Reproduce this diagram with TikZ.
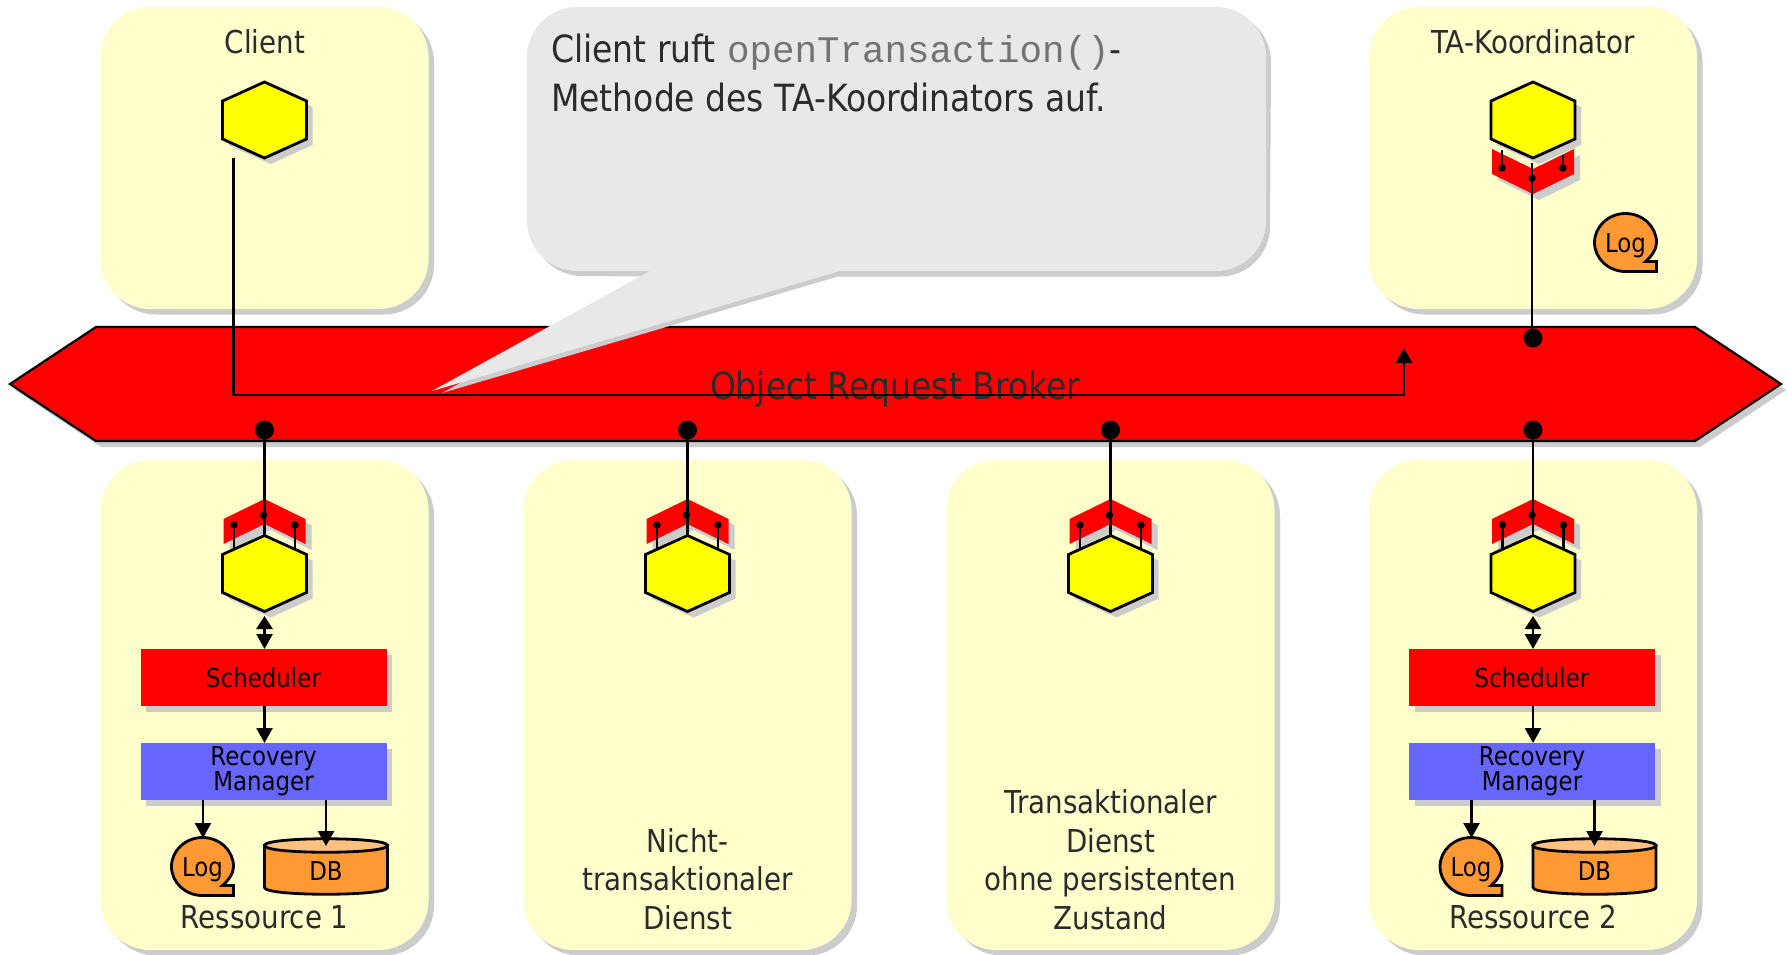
\documentclass[tikz,border=0pt]{standalone}
\usepackage{fontspec}
\setmainfont[FakeStretch=0.88]{DejaVu Sans}
\setmonofont{Liberation Mono}
\usetikzlibrary{arrows.meta,shadows,calc}
\definecolor{boxy}{HTML}{FFFFCC}
\definecolor{shad}{HTML}{CCCCCC}
\definecolor{callg}{HTML}{E8E8E8}
\definecolor{orng}{HTML}{FF9933}
\definecolor{orngl}{HTML}{FFC080}
\definecolor{rmblue}{HTML}{6666FF}
\definecolor{txt}{HTML}{2B2B2B}
\definecolor{hexy}{RGB}{255,255,0}
\definecolor{bandred}{RGB}{255,0,0}
\newcommand{\fs}[2]{\fontsize{#1}{#2}\selectfont}
\tikzset{
  x=1pt,y=-1pt,
  shad5/.style={general shadow={fill=shad,shadow xshift=5.5pt,shadow yshift=-5.5pt}},
  panel/.style={rectangle,rounded corners=50pt,fill=boxy,shad5,inner sep=0pt},
  plain/.style={rectangle,fill=bandred,shad5,inner sep=0pt,minimum width=246pt,minimum height=57pt,text=black,font=\fs{26}{25},align=center},
  lbl/.style={inner sep=0pt,align=center,text=txt,font=\fs{31.5}{38.5}},
  small/.style={inner sep=0pt,align=center,text=black,font=\fs{26}{25}},
  bigdot/.style={circle,fill=black,inner sep=0pt,minimum size=19pt},
  pindot/.style={circle,fill=black,inner sep=0pt,minimum size=7.5pt},
  conn/.style={draw=black,line width=2.6pt},
  arr/.style={conn,-{Triangle[width=16pt,length=15pt]},shorten >=0pt},
  outl/.style={draw=black,line width=2.8pt,line join=miter},
}
% hexagon: a drawn polygon plus an empty named node over it
\newcommand{\hexa}[3]{%
  \begin{scope}[shift={(#2,#3)}]
    \fill[shad] (6,-32) -- (48,-13) -- (48,25) -- (6,44) -- (-36,25) -- (-36,-13) -- cycle;
    \path[fill=hexy,outl] (0,-38) -- (42,-19) -- (42,19) -- (0,38) -- (-42,19) -- (-42,-19) -- cycle;
  \end{scope}
  \node[rectangle,inner sep=0pt,minimum width=84pt,minimum height=76pt] (#1) at (#2,#3) {};}
% red chevron pointing up (above its hexagon); #2 = centre x, y of the apex
\newcommand{\chevup}[2]{%
  \begin{scope}[shift={(#1,#2)}]
    \fill[shad] (6,6) -- (47,26) -- (47,51) -- (6,31) -- (-35,51) -- (-35,26) -- cycle;
    \fill[bandred] (0,0) -- (41,20) -- (41,45) -- (0,25) -- (-41,45) -- (-41,20) -- cycle;
  \end{scope}}
\newcommand{\logshape}[3]{%
  \begin{scope}[shift={(#2,#3)}]
    \path[fill=orng,outl] (0,29) -- (31,29) -- (31,19) -- (20,19) .. controls (27,13) and (31,6) .. (31,0)
      .. controls (31,-16) and (17,-29) .. (0,-29) .. controls (-17,-29) and (-31,-16) .. (-31,0)
      .. controls (-31,16) and (-17,29) .. (0,29) -- cycle;
  \end{scope}
  \node[small] (#1) at ($(#2,#3)+(0,3)$) {Log};}
\newcommand{\dbshape}[3]{%
  \begin{scope}[shift={(#2,#3)}]
    \path[fill=orng,outl] (-61.5,-21) -- (-61.5,21) .. controls (-61.5,30) and (61.5,30) .. (61.5,21) -- (61.5,-21) -- cycle;
    \path[fill=orngl,outl] (-61.5,-21) .. controls (-61.5,-30) and (61.5,-30) .. (61.5,-21)
       .. controls (61.5,-12) and (-61.5,-12) .. (-61.5,-21) -- cycle;
  \end{scope}
  \node[small] (#1) at ($(#2,#3)+(0,5)$) {DB};}
% resource column details: #1 prefix, #2 centre x
\newcommand{\wrapcol}[2]{%
  \node[bigdot] (#1dot) at (#2,430) {};
  \chevup{#2}{499}
  \hexa{#1hex}{#2}{573.5}
  \node[pindot] (#1pc) at (#2-1,515) {};
  \node[pindot] (#1pl) at (#2-30.5,525) {};
  \node[pindot] (#1pr) at (#2+30.5,525) {};
  \coordinate (#1ll) at (#2-30.5,548);
  \coordinate (#1rr) at (#2+30.5,548);
  \draw[conn] (#1dot.center) -- (#1dot.center |- #1hex.north);
  \draw[conn] (#1pl.center) -- (#1ll);
  \draw[conn] (#1pr.center) -- (#1rr);
}
\newcommand{\rescol}[3]{%
  \wrapcol{#1}{#2}
  \node[plain] (#1sch) at (#2-1,677.5) {Scheduler};
  \node[plain,fill=rmblue] (#1rm) at (#2-1,771.5) {Recovery\\Manager};
  \logshape{#1log}{#2-62}{866.5}
  \dbshape{#1db}{#2+61.5}{866.5}
  \coordinate (#1up) at (#2,616);
  \coordinate (#1dn) at (#2,649);
  \draw[conn,{Triangle[width=16pt,length=13pt]}-{Triangle[width=16pt,length=15pt]}] (#1up) -- (#1dn);
  \coordinate (#1m1) at (#2,706);
  \coordinate (#1m2) at (#2,743);
  \draw[arr] (#1m1) -- (#1m2);
  \coordinate (#1a) at (#2-61.5,800);
  \coordinate (#1b) at (#2+61.5,800);
  \coordinate (#1c) at (#2-61.5,838);
  \coordinate (#1d) at (#2+61.5,846);
  \draw[arr] (#1a) -- (#1c);
  \draw[arr] (#1b) -- (#1d);
  \node[lbl] (#1name) at (#2,917.5) {#3};
}
\begin{document}
\begin{tikzpicture}
\useasboundingbox (0,0) rectangle (1787,954);
\fill[white] (0,0) rectangle (1787,954);
% top panels
\node[panel,minimum width=328pt,minimum height=302pt] (pclient) at (264.5,158) {};
\node[panel,minimum width=328pt,minimum height=302pt] (pta) at (1533,158) {};
% bottom panels
\foreach \n/\cx in {pa/264.5,pb/687.5,pc/1110.5,pd/1533}
  \node[panel,minimum width=328pt,minimum height=490pt] (\n) at (\cx,705) {};
% band
\fill[shad] (15,390) -- (101,333) -- (1700,333) -- (1786,390) -- (1700,447) -- (101,447) -- cycle;
\path[fill=bandred,outl,line width=2.2pt] (10,384) -- (96,327) -- (1695,327) -- (1781,384) -- (1695,441) -- (96,441) -- cycle;
\node[inner sep=0pt,text=txt,font=\fs{37.5}{40}] (orb) at (895,389) {Object Request Broker};
% callout
\fill[shad] (442,393) -- (838,276.5) -- (1220,276.5) arc[start angle=90,end angle=0,radius=50] -- (1271,62)
  arc[start angle=0,end angle=-90,radius=50] -- (582,12) arc[start angle=-90,end angle=-180,radius=50] -- (532,226)
  arc[start angle=180,end angle=90,radius=50] -- (650,276.5) -- (460,383) -- cycle;
\fill[callg] (432,391) -- (650,271) -- (577,271) arc[start angle=90,end angle=180,radius=50] -- (527,57)
  arc[start angle=180,end angle=270,radius=50] -- (1216,7) arc[start angle=270,end angle=360,radius=50] -- (1266,221)
  arc[start angle=0,end angle=90,radius=50] -- (840,271) -- cycle;
\node[anchor=west,inner sep=0pt,text=txt,font=\fs{37.5}{40}] (c1) at (551,52) {Client ruft\hspace{1pt} {\ttfamily\color{black!55}openTransaction()}-};
\node[anchor=west,inner sep=0pt,text=txt,font=\fs{37.5}{40}] (c2) at (551,98) {Methode des TA-Koordinators auf.};
% client
\node[lbl] (lclient) at (265,42) {Client};
\hexa{hclient}{264.5}{120}
% coordinator
\node[lbl] (lta) at (1533,42) {TA-Koordinator};
\begin{scope}[shift={(1533,194)}]
  \fill[shad] (6,6) -- (47,-14) -- (47,-39) -- (6,-19) -- (-35,-39) -- (-35,-14) -- cycle;
  \fill[bandred] (0,0) -- (41,-20) -- (41,-45) -- (0,-25) -- (-41,-45) -- (-41,-20) -- cycle;
\end{scope}
\hexa{hta}{1533}{120}
\node[pindot] (tpc) at (1532,178) {};
\node[pindot] (tpl) at (1502,168) {};
\node[pindot] (tpr) at (1563,168) {};
\coordinate (tcs) at (1532,163);
\coordinate (tls) at (1502,150);
\coordinate (trs) at (1563,155);
\node[bigdot] (tdot) at (1533,338) {};
\draw[conn] (tls) -- (tpl.center);
\draw[conn] (trs) -- (tpr.center);
\draw[conn] (tcs) -- (tcs |- tdot.center);
\logshape{tlog}{1625.5}{242.5}
% columns
\rescol{a}{264.5}{Ressource 1}
\wrapcol{b}{687.5}
\wrapcol{c}{1110.5}
\rescol{d}{1533}{Ressource 2}
\node[lbl] (lb) at (687.5,879) {Nicht-\\transaktionaler\\Dienst};
\node[lbl] (lc) at (1110.5,859.5) {Transaktionaler\\Dienst\\ohne persistenten\\Zustand};
% client call
\coordinate (cs) at (233.5,158);
\coordinate (cturn) at (1404,395);
\coordinate (ce) at (1404,348);
\draw[arr] (cs) |- (cturn) -- (ce);
\end{tikzpicture}
\end{document}
